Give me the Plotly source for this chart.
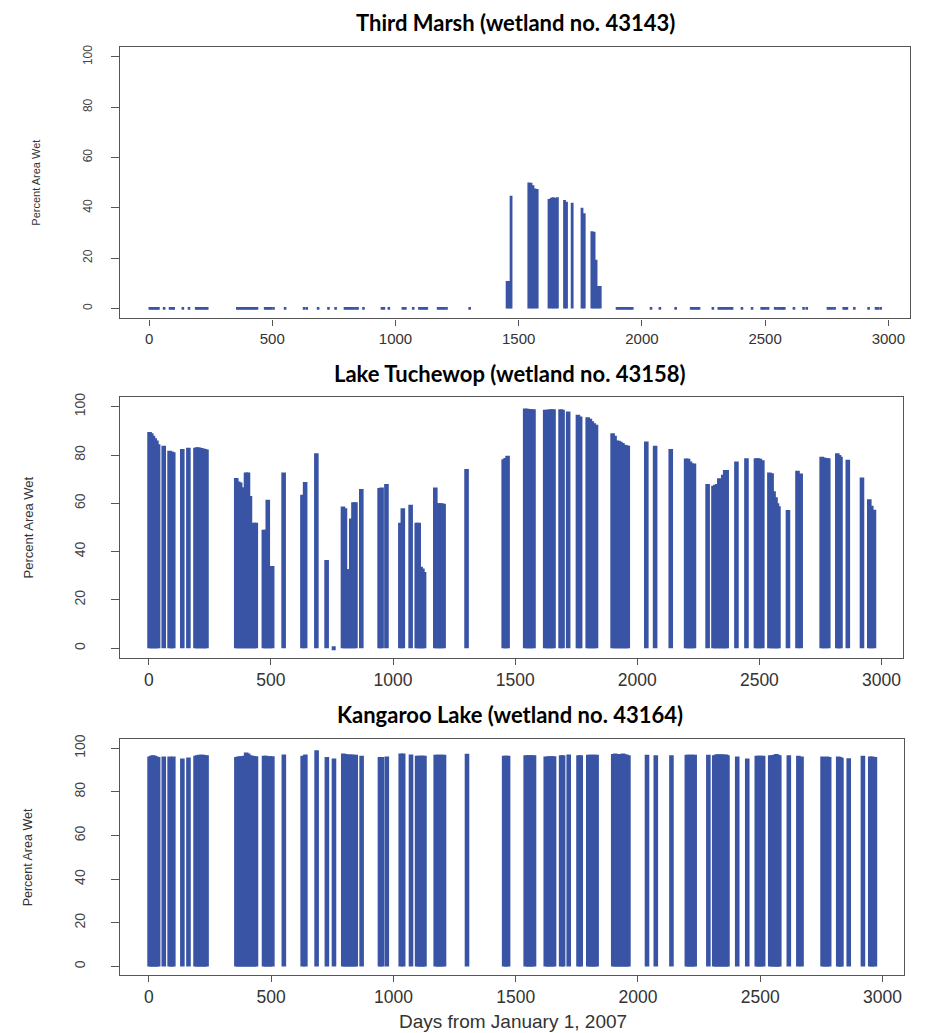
import plotly.graph_objects as go

# Observation days (days from January 1, 2007)
days = [3, 10, 17, 24, 31, 38, 61, 85, 93, 100, 137, 162, 191, 198, 206, 214, 222, 229, 236,
        358, 366, 374, 382, 390, 398, 406, 414, 422, 430, 438, 471, 479, 487, 495, 505, 552,
        629, 640, 686, 728, 757, 795, 803, 812, 820, 829, 838, 846, 870, 945, 953, 973,
        1030, 1040, 1072, 1097, 1105, 1113, 1120, 1127, 1173, 1182, 1190, 1198, 1207, 1301,
        1453, 1461, 1469, 1541, 1550, 1558, 1566, 1575, 1623, 1632, 1640, 1648, 1657, 1686,
        1694, 1717, 1757, 1766, 1797, 1806, 1814, 1822, 1831, 1899, 1907, 1915, 1923, 1931,
        1939, 1947, 1954, 1961, 2037, 2073, 2137, 2200, 2208, 2216, 2224, 2232, 2288, 2312,
        2320, 2328, 2336, 2344, 2352, 2360, 2366, 2406, 2447, 2486, 2494, 2502, 2512, 2541,
        2550, 2558, 2566, 2572, 2578, 2617, 2656, 2669, 2755, 2764, 2773, 2782, 2819, 2826,
        2832, 2862, 2920, 2950, 2958, 2969]

third_marsh = [0, 0, 0, 0, 0, 0, 0, 0, 0, 0, 0, 0, 0, 0, 0, 0, 0, 0, 0,
               0, 0, 0, 0, 0, 0, 0, 0, 0, 0, 0, 0, 0, 0, 0, 0, 0,
               0, 0, 0, 0, 0, 0, 0, 0, 0, 0, 0, 0, 0, 0, 0, 0,
               0, 0, 0, 0, 0, 0, 0, 0, 0, 0, 0, 0, 0, 0,
               10.9, 10.9, 44.8, 50.1, 50.0, 49.0, 47.7, 47.5, 43.5, 44.0, 44.2, 44.0, 44.2, 43.1,
               42.4, 42.0, 40.0, 37.8, 30.7, 30.5, 19.3, 8.9, 8.9, 0, 0, 0, 0, 0,
               0, 0, 0, 0, 0, 0, 0, 0, 0, 0, 0, 0, 0, 0,
               0, 0, 0, 0, 0, 0, 0, 0, 0, 0, 0, 0, 0, 0,
               0, 0, 0, 0, 0, 0, 0, 0, 0, 0, 0, 0, 0, 0,
               0, 0, 0, 0, 0, 0]

tuchewop = [89.5, 89.0, 88.0, 87.0, 86.0, 84.5, 83.8, 81.8, 81.5, 81.2, 82.5, 83.0, 83.0, 83.2, 83.1, 82.9, 82.7, 82.5, 82.3,
            70.5, 69.0, 68.6, 66.6, 66.6, 72.8, 72.8, 63.0, 49.0, 52.0, 52.0, 49.0, 49.0, 61.5, 34.0, 34.0, 72.8,
            63.5, 68.8, 80.7, 36.5, 0, 58.7, 58.0, 32.7, 32.7, 53.7, 60.4, 60.4, 65.9, 66.3, 66.6, 68.0,
            52.0, 58.0, 59.4, 52.0, 52.0, 33.7, 33.0, 31.6, 66.6, 60.0, 60.0, 60.0, 59.8, 74.2,
            78.3, 78.8, 79.7, 99.3, 99.2, 99.0, 99.0, 99.0, 98.8, 98.8, 98.9, 99.0, 99.0, 99.0,
            98.8, 98.0, 96.7, 96.0, 95.6, 95.0, 94.0, 93.2, 92.5, 89.0, 88.0, 86.0, 85.9, 85.5,
            85.0, 84.3, 84.0, 83.8, 85.6, 83.8, 82.5, 78.6, 78.5, 77.3, 76.5, 76.5, 68.0, 67.3,
            67.7, 68.0, 70.4, 69.6, 71.8, 73.8, 73.8, 77.3, 78.7, 78.7, 78.7, 78.5, 77.8, 72.8,
            72.5, 65.0, 62.5, 60.0, 58.8, 57.2, 73.5, 72.4, 79.3, 79.0, 78.8, 78.7, 80.7, 80.0,
            79.3, 78.0, 70.7, 61.7, 59.0, 57.3]

kangaroo = [96.2, 96.5, 96.8, 96.5, 96.2, 96.0, 96.2, 96.2, 96.0, 96.2, 95.3, 95.7, 96.5, 96.8, 97.0, 97.0, 97.0, 96.8, 96.8,
            96.0, 96.2, 96.3, 96.3, 96.5, 98.0, 97.5, 96.8, 96.5, 96.3, 96.3, 96.5, 96.5, 96.3, 96.3, 96.3, 97.1,
            96.5, 97.1, 99.1, 96.0, 95.3, 97.6, 97.3, 97.1, 97.1, 97.1, 97.0, 97.0, 96.5, 96.0, 96.0, 96.2,
            97.6, 97.6, 97.1, 96.5, 96.5, 96.5, 96.5, 96.5, 97.0, 97.0, 97.0, 97.0, 97.0, 97.4,
            96.5, 96.5, 96.5, 96.8, 96.8, 96.8, 96.8, 96.8, 96.2, 96.2, 96.3, 96.3, 96.3, 96.8,
            96.8, 97.1, 96.8, 96.8, 97.0, 97.0, 97.0, 97.0, 97.0, 97.3, 97.5, 97.3, 97.0, 97.3,
            97.5, 97.2, 97.0, 96.8, 97.0, 96.8, 96.8, 97.0, 97.0, 97.0, 97.0, 97.0, 97.0, 96.8,
            97.1, 97.2, 97.1, 97.2, 97.0, 97.1, 96.8, 96.2, 95.3, 96.5, 96.5, 96.5, 96.5, 96.8,
            96.8, 97.0, 97.3, 97.0, 96.8, 96.8, 96.5, 96.2, 96.2, 95.8, 96.2, 96.0, 96.2, 96.0,
            95.6, 95.4, 96.5, 96.2, 96.2, 96.0]

titles = ["Third Marsh (wetland no. 43143)",
          "Lake Tuchewop (wetland no. 43158)",
          "Kangaroo Lake (wetland no. 43164)"]
y_title = "Percent Area Wet"
x_title = "Days from January 1, 2007"
x_ticks = [0, 500, 1000, 1500, 2000, 2500, 3000]
y_ticks = [0, 20, 40, 60, 80, 100]

BLUE = "#3A54A5"
W, H = 926, 1033

# panel boxes in pixels: (left, right, top, bottom)
boxes = [(120, 910, 42, 315), (120, 903, 394, 656), (120, 904, 738, 975)]
stem_w = [2.8, 4.6, 4.6]
xtick_size = [15, 17.5, 17.5]
ytick_size = [12, 14, 14]
ytitle_size = [11, 13, 12.5]
ystandoff = [14, 20, 20]
title_y = [18, 370, 713]
title_x = [515, 510, 510]

series = [third_marsh, tuchewop, kangaroo]

fig = go.Figure()
layout = dict(width=W, height=H, margin=dict(l=0, r=0, t=0, b=0),
              paper_bgcolor="white", plot_bgcolor="white", showlegend=False,
              annotations=[])

for i, vals in enumerate(series):
    n = i + 1
    xs, ys, zx, zy = [], [], [], []
    for d, v in zip(days, vals):
        if v > 0:
            xs += [d, d, None]
            ys += [0, v, None]
        else:
            zx.append(d)
            zy.append(v)
    xa = "x" if n == 1 else f"x{n}"
    ya = "y" if n == 1 else f"y{n}"
    fig.add_trace(go.Scatter(x=xs, y=ys, mode="lines", xaxis=xa, yaxis=ya,
                             line=dict(color=BLUE, width=stem_w[i]), hoverinfo="skip"))
    fig.add_trace(go.Scatter(x=zx, y=zy, mode="markers", xaxis=xa, yaxis=ya,
                             marker=dict(color=BLUE, symbol="square",
                                         size=2.6 if i == 0 else 4, line=dict(width=0)),
                             hoverinfo="skip"))
    l, r, t, b = boxes[i]
    xdom = [l / W, r / W]
    ydom = [1 - b / H, 1 - t / H]
    common = dict(showline=True, mirror=True, linecolor="#555555", linewidth=1.3,
                  showgrid=False, zeroline=False, ticks="outside", tickcolor="#555555",
                  tickwidth=1.2)
    layout["xaxis" if n == 1 else f"xaxis{n}"] = dict(
        domain=xdom, range=[-118, 3088], tickvals=x_ticks, ticklen=6,
        tickfont=dict(family="Liberation Sans, Arial, sans-serif", size=xtick_size[i], color="#333333"),
        anchor=ya, **common)
    layout["yaxis" if n == 1 else f"yaxis{n}"] = dict(
        domain=ydom, range=[-4, 104], tickvals=y_ticks, ticklen=8, tickangle=-90,
        ticklabelstandoff=ystandoff[i],
        tickfont=dict(family="Liberation Sans, Arial, sans-serif", size=ytick_size[i], color="#444444"),
        anchor=xa, **common)
    layout["annotations"].append(dict(
        text=titles[i], x=title_x[i] / W, y=1 - title_y[i] / H, xref="paper", yref="paper",
        xanchor="center", yanchor="middle", showarrow=False,
        font=dict(family="Lato, Liberation Sans, sans-serif",
                  size=22, color="#000000", weight="bold")))
    layout["annotations"].append(dict(
        text=y_title, x=(36 if i == 0 else 28) / W, y=1 - (t + b) / 2 / H, xref="paper", yref="paper",
        xanchor="center", yanchor="middle", showarrow=False, textangle=-90,
        font=dict(family="Liberation Sans, Arial, sans-serif", size=ytitle_size[i], color="#333333")))

layout["annotations"].append(dict(
    text=x_title, x=513 / W, y=1 - 1021 / H, xref="paper", yref="paper",
    xanchor="center", yanchor="middle", showarrow=False,
    font=dict(family="Liberation Sans, Arial, sans-serif", size=19, color="#333333")))

fig.update_layout(**layout)
fig.write_html("out.html", config={"displayModeBar": False})

# remove the default page margin so the figure sits at the window's top-left corner
with open("out.html", "r", encoding="utf-8") as f:
    html = f.read()
html = html.replace("<head>", "<head><style>html,body{margin:0;padding:0;overflow:hidden;}</style>", 1)
with open("out.html", "w", encoding="utf-8") as f:
    f.write(html)
